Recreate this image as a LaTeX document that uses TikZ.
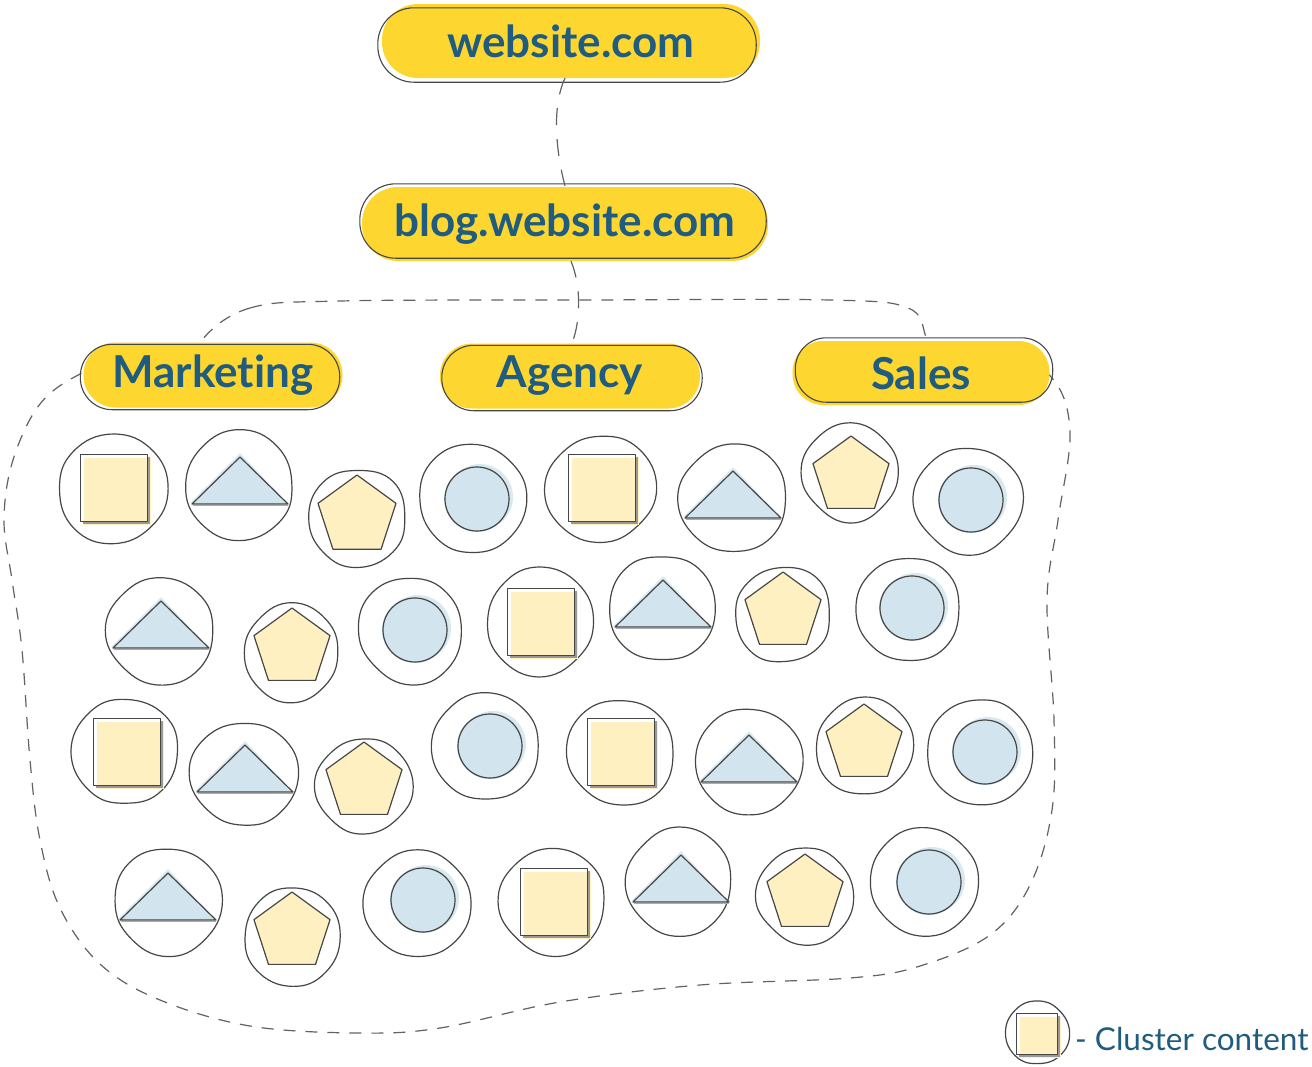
\documentclass[tikz,border=0pt]{standalone}
\usepackage{fontspec}
\setmainfont{Lato}[Ligatures=NoCommon]
\usetikzlibrary{calc}
\definecolor{ylw}{RGB}{254,214,48}
\definecolor{txt}{RGB}{31,92,128}
\definecolor{cream}{RGB}{255,240,194}
\definecolor{lblue}{RGB}{210,229,238}
\definecolor{ln}{RGB}{70,70,70}
\tikzset{
  pill/.style={fill=ylw, inner sep=0pt, text=txt, font=\fontsize{44}{46}\selectfont\bfseries},
  pilloutline/.style={draw=ln, line width=1.1pt},
  blobline/.style={draw=ln, line width=1.2pt},
  shapeline/.style={draw=ln, line width=1.2pt, line join=round},
  dashline/.style={draw=ln!85, line width=1.2pt, dash pattern=on 12pt off 10pt},
  linkline/.style={draw=ln!85, line width=1.2pt, dash pattern=on 17pt off 14pt},
}
% name, cx, cy, w, h, radius, dx, dy, text
\newcommand\pill[9]{%
  \node[pill, minimum width=#4pt, minimum height=#5pt, rounded corners=#6pt] (#1) at (#2,#3) {#9};
  \draw[pilloutline, rounded corners=#6pt] ($(#1.south west)+(#7,#8)$) rectangle ($(#1.north east)+(#7,#8)$);
}
% cx, cy, r, seed
\newcommand\blob[4]{%
  \pgfmathsetseed{#4}%
  \draw[blobline] plot[smooth cycle, tension=0.75, samples at={0,45,...,315}, variable=\t]
    ({#1+#3*(1+0.05*rand)*cos(\t)},{#2+#3*(1+0.05*rand)*sin(\t)});
}
% cx, cy, side
\newcommand\sqr[3]{%
  \fill[cream] ({#1-#3/2+3},{#2-#3/2+3}) rectangle ++(#3,#3);
  \draw[ln!55, line width=2.2pt] ({#1+#3/2+1},{#2-#3/2+2}) -- ({#1+#3/2+1},{#2+#3/2+1}) -- ({#1-#3/2+2},{#2+#3/2+1});
  \draw[shapeline] ({#1-#3/2},{#2-#3/2}) rectangle ++(#3,#3);
}
% apex x, base y, half width, height
\newcommand\tri[4]{%
  \fill[lblue!80] ({#1-#3-2},{#2-1}) -- ({#1},{#2-#4-4}) -- ({#1+#3},{#2}) -- cycle;
  \fill[lblue] ({#1-#3},{#2}) -- ({#1},{#2-#4}) -- ({#1+#3},{#2}) -- cycle;
  \draw[shapeline] ({#1-#3},{#2}) -- ({#1},{#2-#4}) -- ({#1+#3},{#2}) -- cycle;
  \draw[ln!45, line width=1.6pt] ({#1-#3+1},{#2+1.5}) -- ({#1+#3},{#2+1.5});
}
% cx, cy, R
\newcommand\pent[3]{%
  \fill[cream] ([shift={(-90:#3)}]#1,#2) -- ([shift={(-18:#3)}]#1,#2) -- ([shift={(54:#3)}]#1,#2) -- ([shift={(126:#3)}]#1,#2) -- ([shift={(198:#3)}]#1,#2) -- cycle;
  \draw[shapeline] ([shift={(-90:#3)}]#1,#2) -- ([shift={(-18:#3)}]#1,#2) -- ([shift={(54:#3)}]#1,#2) -- ([shift={(126:#3)}]#1,#2) -- ([shift={(198:#3)}]#1,#2) -- cycle;
}
% cx, cy
\newcommand\crc[2]{%
  \fill[lblue!85] ({#1+3},{#2-2}) circle (33pt);
  \fill[lblue] (#1,#2) circle (33pt);
  \draw[shapeline] (#1,#2) circle (32pt);
}
\begin{document}
\begin{tikzpicture}[x=1pt,y=-1pt]
\useasboundingbox (0,0) rectangle (1312,1066);
\fill[white] (0,0) rectangle (1312,1066);

% cluster boundary
\draw[dashline] plot[smooth cycle, tension=0.6] coordinates {
  (202,340) (250,308) (340,301) (580,300) (830,300) (908,308) (926,337) (935,375)
  (1000,350) (1052,378) (1070,432) (1058,520) (1047,600) (1054,720) (1052,810)
  (1030,885) (990,935) (920,966) (850,978) (700,985) (560,1002) (440,1028)
  (358,1033) (250,1026) (160,1000) (100,964) (60,908) (40,840) (30,760) (22,650)
  (12,580) (4,520) (13,460) (40,404) (82,373) (140,352) (195,375)};

% nodes
\pill{web}{571}{41}{378}{74}{36}{-4}{4}{website.com}
\pill{blog}{565}{224}{406}{74}{36}{-2}{-3}{blog.website.com}
\pill{mkt}{213}{375}{259}{65}{32}{-3}{2}{Marketing}
\pill{agc}{570}{376}{260}{65}{32}{2}{2}{Agency}
\pill{sls}{921}{373}{257}{64}{31}{3}{-3}{Sales}

% connectors
\draw[linkline] ([xshift=-6pt]web.south) .. controls (550,110) and (558,160) .. ([yshift=1pt]blog.north);
\draw[linkline] ([xshift=6pt]blog.south) .. controls (581,285) and (581,320) .. ([xshift=2pt]agc.north);

% row 1
\blob{113}{489}{54}{11} \sqr{114}{488}{67}
\blob{239}{486}{54}{12} \tri{240}{504}{48}{47}
\blob{357}{518}{49}{13} \pent{357}{516}{41}
\blob{472}{499}{53}{14} \crc{477}{499}
\blob{601}{488}{54}{15} \sqr{602}{488}{67}
\blob{733}{498}{53}{16} \tri{733}{518}{48}{47}
\blob{851}{473}{48}{17} \pent{851}{476}{40}
\blob{968}{500}{53}{18} \crc{971}{500}
% row 2
\blob{160}{630}{53}{21} \tri{161}{648}{48}{47}
\blob{292}{653}{48}{22} \pent{292}{648}{40}
\blob{411}{630}{53}{23} \crc{415}{630}
\blob{540}{622}{53}{24} \sqr{541}{622}{67}
\blob{662}{608}{53}{25} \tri{663}{627}{48}{47}
\blob{783}{615}{48}{26} \pent{783}{612}{40}
\blob{908}{609}{53}{27} \crc{912}{608}
% row 3
\blob{126}{752}{53}{31} \sqr{127}{752}{67}
\blob{244}{774}{53}{32} \tri{245}{792}{48}{47}
\blob{364}{786}{48}{33} \pent{364}{782}{40}
\blob{486}{746}{53}{34} \crc{490}{746}
\blob{621}{752}{53}{35} \sqr{621}{752}{67}
\blob{748}{762}{53}{36} \tri{749}{782}{48}{47}
\blob{864}{746}{48}{37} \pent{864}{744}{40}
\blob{980}{752}{53}{38} \crc{985}{752}
% row 4
\blob{167}{902}{53}{41} \tri{168}{920}{48}{47}
\blob{292}{937}{48}{42} \pent{292}{932}{40}
\blob{418}{902}{53}{43} \crc{423}{900}
\blob{553}{902}{53}{44} \sqr{554}{902}{67}
\blob{680}{882}{53}{45} \tri{681}{902}{48}{47}
\blob{805}{896}{48}{46} \pent{805}{894}{40}
\blob{925}{882}{53}{47} \crc{929}{882}

% legend
\blob{1037}{1033}{32}{51} \sqr{1037}{1034}{41}
\node[anchor=base west, inner sep=0pt, text=txt, font=\fontsize{31.5}{34}\selectfont] (legend) at (1075,1050) {- Cluster content};
\end{tikzpicture}
\end{document}
